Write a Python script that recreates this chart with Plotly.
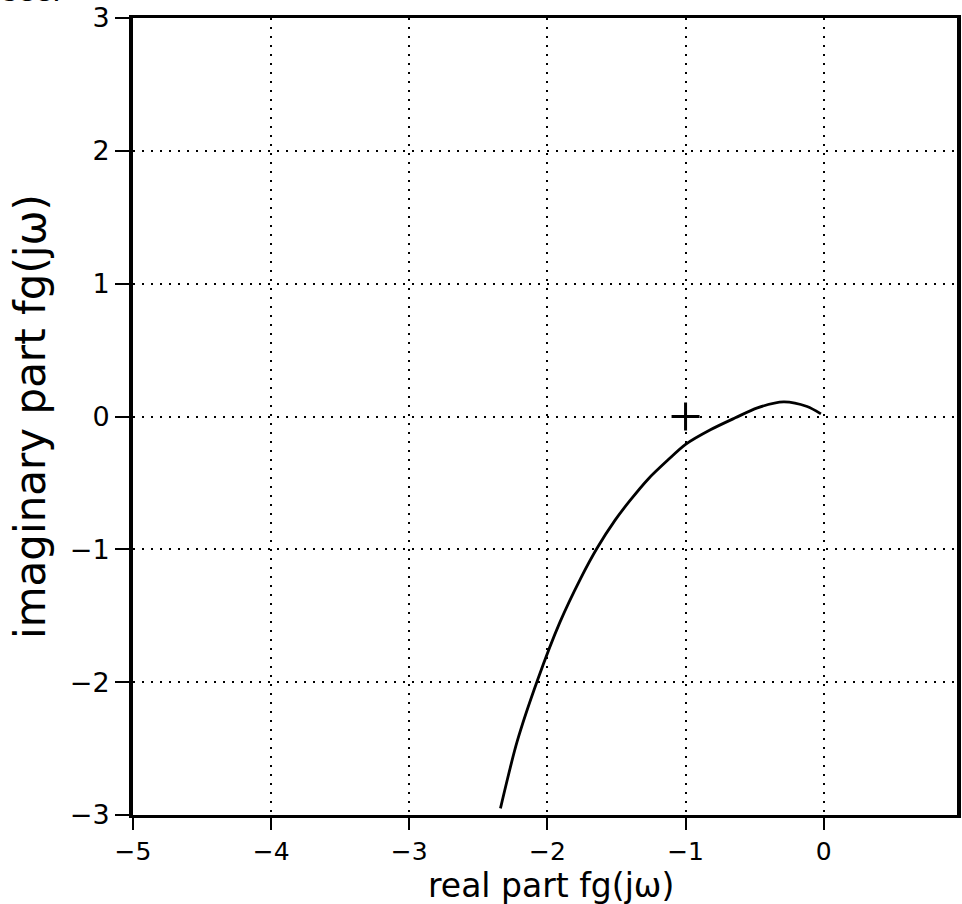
import plotly.graph_objects as go

# Nyquist curve
re_part = [-2.34, -2.22, -2.07, -1.91, -1.76, -1.64, -1.51, -1.40, -1.27, -1.13, -1.0, -0.82, -0.64, -0.48, -0.29, -0.12, -0.02]
im_part = [-2.95, -2.45, -1.98, -1.55, -1.22, -0.99, -0.78, -0.63, -0.47, -0.33, -0.21, -0.1, -0.01, 0.065, 0.11, 0.075, 0.02]

# critical point marker
crit_x = [-1]
crit_y = [0]

x_ticks = [-5, -4, -3, -2, -1, 0]
y_ticks = [-3, -2, -1, 0, 1, 2, 3]

FONT = "DejaVu Sans"

fig = go.Figure()
fig.add_trace(go.Scatter(x=re_part, y=im_part, mode="lines",
                         line=dict(color="black", width=2.8, shape="spline", smoothing=0.8),
                         showlegend=False, hoverinfo="skip"))
fig.add_trace(go.Scatter(x=crit_x, y=crit_y, mode="markers",
                         marker=dict(symbol="cross-thin", size=20,
                                     line=dict(color="black", width=3)),
                         showlegend=False, hoverinfo="skip"))

fig.update_layout(
    width=962, height=904,
    margin=dict(l=133, r=1, t=18, b=89),
    paper_bgcolor="white", plot_bgcolor="white",
    font=dict(family=FONT, color="black"),
    xaxis=dict(range=[-5, 0.965], tickvals=x_ticks, ticks="outside", ticklen=12,
               tickwidth=2, tickcolor="black",
               showline=True, linewidth=3, linecolor="black", mirror=True,
               showgrid=True, gridcolor="black", gridwidth=2, griddash="2px,7px",
               zeroline=False, tickfont=dict(size=25, family=FONT),
               ticklabelstandoff=0),
    yaxis=dict(range=[-3, 3], tickvals=y_ticks, ticks="outside", ticklen=14,
               tickwidth=2, tickcolor="black",
               showline=True, linewidth=4, linecolor="black", mirror=True,
               showgrid=True, gridcolor="black", gridwidth=2, griddash="2px,7px",
               zeroline=False, tickfont=dict(size=27, family=FONT),
               ticklabelstandoff=0,
               title=dict(text="imaginary part fg(jω)", font=dict(size=42, family=FONT), standoff=12)),
)

# x-axis title placed as an annotation just below the tick labels
fig.add_annotation(text="real part fg(jω)", xref="paper", yref="paper", x=0.507, y=-0.0890,
                   xanchor="center", yanchor="middle", showarrow=False,
                   font=dict(size=33, family=FONT, color="black"))

fig.add_annotation(text="see.", xref="paper", yref="paper", x=-0.1606, y=1.010,
                   xanchor="left", yanchor="bottom",
                   showarrow=False, font=dict(size=28, family=FONT, color="black"))

fig.write_html("out.html", config={"displayModeBar": False},
               post_script="document.body.style.margin='0px';")
